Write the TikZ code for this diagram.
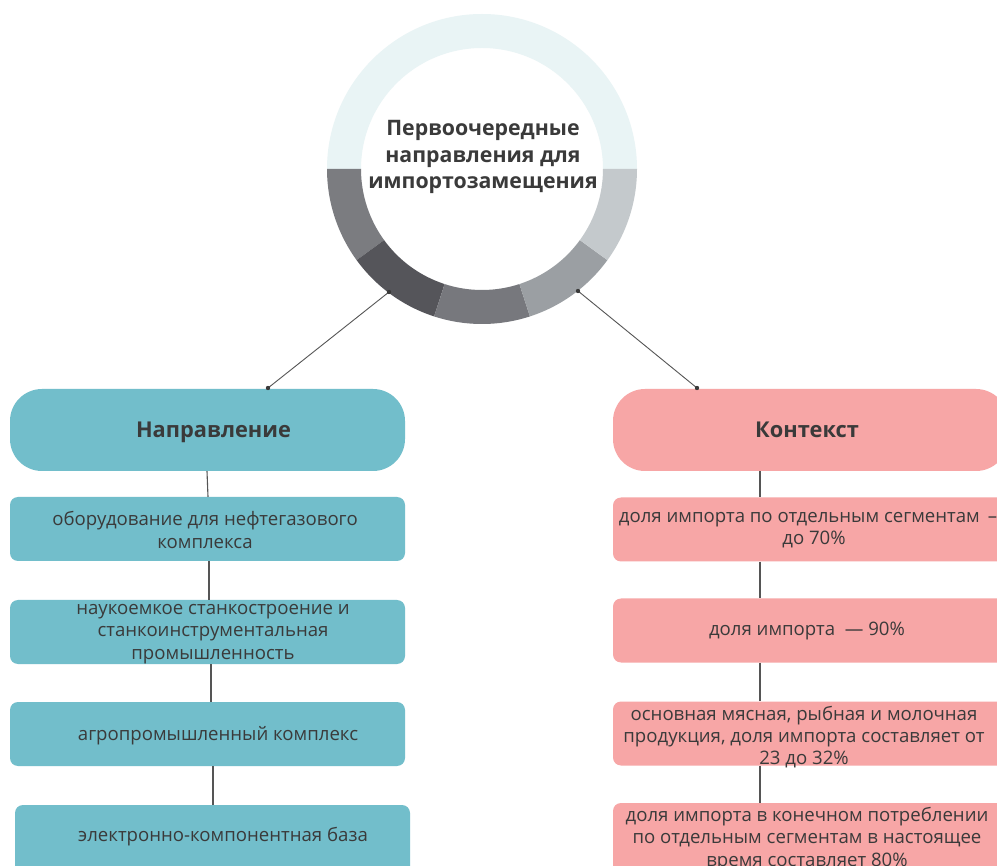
\documentclass[tikz,border=0pt]{standalone}
\usepackage{fontspec}
\setmainfont{Open Sans}
\definecolor{teal}{HTML}{72BECB}
\definecolor{pink}{HTML}{F7A6A6}
\definecolor{txt}{HTML}{3A3A3A}
\definecolor{ringtop}{HTML}{E9F4F5}
\definecolor{segA}{HTML}{7B7C80}
\definecolor{segB}{HTML}{55555A}
\definecolor{segC}{HTML}{77787D}
\definecolor{segD}{HTML}{9B9FA3}
\definecolor{segE}{HTML}{C4C9CC}
\definecolor{conn}{HTML}{555555}
\begin{document}
\begin{tikzpicture}[x=1pt,y=-1pt,
  hdrbox/.style={rounded corners=32pt, minimum width=395pt, minimum height=82pt, inner sep=0pt},
  itembox/.style={rounded corners=8pt, minimum width=395pt, minimum height=64pt, inner sep=0pt},
  bodytxt/.style={font=\fontsize{18.6}{22.2}\selectfont, text=txt, align=center, inner sep=0pt},
  headtxt/.style={font=\fontsize{21.8}{26}\selectfont\bfseries, text=txt, align=center, inner sep=0pt, anchor=base},
  titletxt/.style={font=\fontsize{21.3}{26.5}\selectfont\bfseries, text=txt, align=center, inner sep=0pt},
  link/.style={draw=conn, line width=1.1pt},
  dotmark/.style={fill=txt}]
\clip (0,0) rectangle (997,866);
\fill[white] (0,0) rectangle (997,866);
% ring
\begin{scope}[shift={(482,169)}]
  \fill[ringtop] (180:155) arc[start angle=180, end angle=360, radius=155] -- (0:121) arc[start angle=360, end angle=180, radius=121] -- cycle;
  \fill[segA] (144:155) arc[start angle=144, end angle=180, radius=155] -- (180:121) arc[start angle=180, end angle=144, radius=121] -- cycle;
  \fill[segB] (108:155) arc[start angle=108, end angle=144, radius=155] -- (144:121) arc[start angle=144, end angle=108, radius=121] -- cycle;
  \fill[segC] (72:155) arc[start angle=72, end angle=108, radius=155] -- (108:121) arc[start angle=108, end angle=72, radius=121] -- cycle;
  \fill[segD] (36:155) arc[start angle=36, end angle=72, radius=155] -- (72:121) arc[start angle=72, end angle=36, radius=121] -- cycle;
  \fill[segE] (0:155) arc[start angle=0, end angle=36, radius=155] -- (36:121) arc[start angle=36, end angle=0, radius=121] -- cycle;
\end{scope}
\node[titletxt] (ttl) at (483,157) {Первоочередные\\направления для\\импортозамещения};

% headers
\node[hdrbox, fill=teal] (hL) at (207.5,430) {};
\node[headtxt] (hLt) at (213.5,437.5) {Направление};
\node[hdrbox, fill=pink] (hR) at (810.5,430) {};
\node[headtxt] (hRt) at (807,437.5) {Контекст};

% connectors from ring
\coordinate (rl) at (389,292);
\coordinate (el) at (268,388);
\coordinate (rr) at (578,291);
\coordinate (er) at (697,388);
\draw[link, line width=0.9pt] (rl) -- (el);
\draw[link, line width=0.9pt] (rr) -- (er);
\fill[dotmark] (rl) circle[radius=2.2];
\fill[dotmark] (el) circle[radius=2.2];
\fill[dotmark] (rr) circle[radius=2.2];
\fill[dotmark] (er) circle[radius=2.2];

% left items
\node[itembox, fill=teal] (L1) at (207.5,529) {};
\node[itembox, fill=teal] (L2) at (207.5,632) {};
\node[itembox, fill=teal] (L3) at (207.5,734) {};
\node[itembox, fill=teal, minimum height=75pt] (L4) at (212.5,842.5) {};
\node[bodytxt] (L1t) at (205,530) {оборудование для нефтегазового\\комплекса};
\node[bodytxt] (L2t) at (213,634) {наукоемкое станкостроение и\\станкоинструментальная\\промышленность};
\node[bodytxt] (L3t) at (218,736) {агропромышленный комплекс};
\node[bodytxt] (L4t) at (223,837) {электронно-компонентная база};

\draw[link] ([xshift=-0.5pt]hL.south) -- ([xshift=0.5pt]L1.north);
\draw[link] ([xshift=1.5pt]L1.south) -- ([xshift=1.5pt]L2.north);
\draw[link] ([xshift=3.5pt]L2.south) -- ([xshift=3.5pt]L3.north);
\draw[link] ([xshift=5.5pt]L3.south) -- ([xshift=0.5pt]L4.north);

% right items
\node[itembox, fill=pink] (R1) at (810.5,529.5) {};
\node[itembox, fill=pink] (R2) at (810.5,630.5) {};
\node[itembox, fill=pink] (R3) at (810.5,733.5) {};
\node[itembox, fill=pink, minimum height=77pt] (R4) at (810.5,841.5) {};
\node[bodytxt] (R1t) at (808,530) {доля импорта по отдельным сегментам \,–\\\hspace*{12pt}до 70\%};
\node[bodytxt] (R2t) at (807,631) {доля импорта\ \ — 90\%};
\node[bodytxt] (R3t) at (804,737) {основная мясная, рыбная и молочная\\продукция, доля импорта составляет от\\23 до 32\%};
\node[bodytxt] (R4t) at (807,839) {доля импорта в конечном потреблении\\по отдельным сегментам в настоящее\\время составляет 80\%};

\draw[link] ([xshift=-50.5pt]hR.south) -- ([xshift=-50.5pt]R1.north);
\draw[link] ([xshift=-50.5pt]R1.south) -- ([xshift=-50.5pt]R2.north);
\draw[link] ([xshift=-50.5pt]R2.south) -- ([xshift=-50.5pt]R3.north);
\draw[link] ([xshift=-50.5pt]R3.south) -- ([xshift=-50.5pt]R4.north);
\end{tikzpicture}
\end{document}
